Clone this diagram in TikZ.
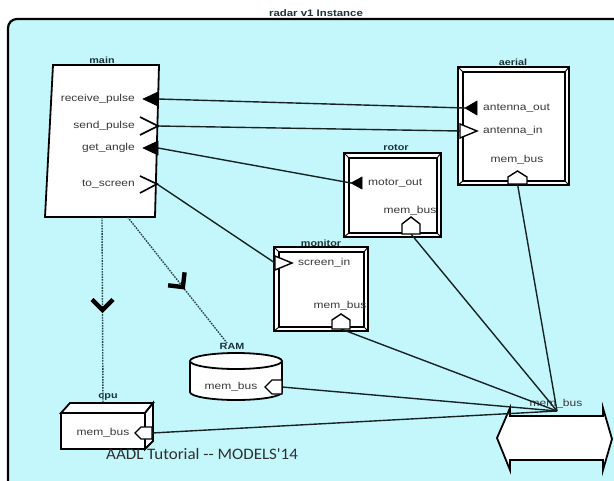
\documentclass[tikz,border=0pt]{standalone}
\usepackage{fontspec}
\usetikzlibrary{decorations.markings}
\newfontfamily\lab[FakeStretch=1.2]{Liberation Sans}
\newfontfamily\foot[FakeStretch=1.06,Ligatures=TeXOff]{Carlito}
\definecolor{bgcyan}{HTML}{C4F7FC}
\definecolor{txtgray}{HTML}{383838}
\definecolor{ttl}{HTML}{1A3238}
\definecolor{dotc}{HTML}{2A464C}
\definecolor{linec}{HTML}{182424}
\definecolor{footc}{HTML}{303030}
\newcommand\bevelbox[5]{%
  \node[box, minimum width={#4-#2}, minimum height={#5-#3}, inner sep=0pt, outer sep=0pt] (#1) at ({(#2+#4)/2},{(#3+#5)/2}) {};
  \draw[innerline] (#2+5,#3+5) rectangle (#4-4,#5-4);
  \draw[line width=1pt] (#2,#3) -- (#2+5,#3+5) (#4,#3) -- (#4-4,#3+5) (#2,#5) -- (#2+5,#5-4) (#4,#5) -- (#4-4,#5-4);
}
\begin{document}
\begin{tikzpicture}[x=1pt,y=-1pt,
  box/.style={draw=black, fill=white, line width=1.8pt, line join=miter},
  innerline/.style={draw=black, line width=1.3pt},
  port/.style={font=\lab\fontsize{10}{12}\selectfont, text=txtgray, inner sep=0pt},
  ttlab/.style={font=\lab\bfseries\fontsize{9}{11}\selectfont, text=ttl, inner sep=0pt, anchor=base},
  conn/.style={draw=linec, line width=1.4pt},
  fport/.style={fill=black, draw=black, line width=0.6pt, line join=miter},
  oport/.style={fill=white, draw=black, line width=1.4pt, line join=miter},
  chevport/.style={draw=black, line width=1.6pt},
  binding/.style={draw=dotc, line width=1.4pt, dash pattern=on 1.6pt off 1.1pt},
  chev/.style={draw=black, solid, line width=4.4pt, line join=miter, line cap=butt},
]
\useasboundingbox (0,0) rectangle (614,480);
\fill[white] (0,0) rectangle (614,480);
\fill[bgcyan, rounded corners=9pt] (8,19) rectangle (640,500);
\draw[line width=2.2pt, rounded corners=9pt] (8,500) -- (8,19) -- (640,19);
\node[font=\lab\bfseries\fontsize{9.5}{11}\selectfont, text=ttl, inner sep=0pt, anchor=base] (title) at (316,16) {radar v1 Instance};

% main
\draw[box] (53,65) -- (159,65) -- (155,217) -- (45,217) -- cycle;
\coordinate (main) at (102,141);
\node[ttlab] (tmain) at (102,63) {main};
\node[port, anchor=mid east] (lrp) at (135,99) {receive\_pulse};
\node[port, anchor=mid east] (lsp) at (135,126) {send\_pulse};
\node[port, anchor=mid east] (lga) at (135,148) {get\_angle};
\node[port, anchor=mid east] (lts) at (135,184) {to\_screen};

% aerial
\bevelbox{aerial}{458}{67}{569}{185}
\node[ttlab] (taerial) at (513,65) {aerial};
\node[port, anchor=mid west] (lao) at (483,108) {antenna\_out};
\node[port, anchor=mid west] (lai) at (483,131) {antenna\_in};
\node[port] (lamb) at (517,160) {mem\_bus};

% rotor
\bevelbox{rotor}{344}{153}{441}{237}
\node[ttlab] (trotor) at (396,150) {rotor};
\node[port, anchor=mid west] (lmo) at (368,183) {motor\_out};
\node[port] (lrmb) at (410,211) {mem\_bus};

% monitor
\bevelbox{monitor}{274}{247}{368}{331}
\node[ttlab] (tmonitor) at (321,246) {monitor};
\node[port, anchor=mid west] (lsi) at (298,263) {screen\_in};
\node[port] (lmmb) at (340,306) {mem\_bus};

% RAM
\draw[box] (190,361) -- (190,392) arc[start angle=180, end angle=360, x radius=46pt, y radius=8pt] -- (282,361) arc[start angle=0, end angle=180, x radius=46pt, y radius=8pt] -- cycle;
\draw[line width=1.8pt] (190,361) arc[start angle=180, end angle=360, x radius=46pt, y radius=8pt];
\coordinate (ram) at (236,376);
\node[ttlab] (tram) at (232,349) {RAM};
\node[port] (lrammb) at (231,387) {mem\_bus};

% cpu
\node[box, minimum width=84, minimum height=36, inner sep=0pt, outer sep=0pt] (cpu) at (103,431) {};
\draw[box] (61,413) -- (70,403) -- (153,403) -- (145,413) -- cycle;
\draw[box] (145,413) -- (153,403) -- (153,441) -- (145,449) -- cycle;
\node[ttlab] (tcpu) at (108,398) {cpu};
\node[port] (lcmb) at (103,433) {mem\_bus};

% bus
\draw[box] (497,438) -- (510,408) -- (510,416) -- (603,416) -- (603,408) -- (612,439) -- (603,470) -- (603,460) -- (510,460) -- (510,470) -- cycle;
\node[port] (tbus) at (556,404) {mem\_bus};

% port coordinates
\coordinate (rp) at (158,99);
\coordinate (sp) at (158,126);
\coordinate (ga) at (158,148);
\coordinate (ts) at (157,184);
\coordinate (ao) at (465,108);
\coordinate (ai) at (460,131);
\coordinate (amb) at (517.5,184);
\coordinate (mo) at (351,183);
\coordinate (rmb) at (411,234);
\coordinate (si) at (275,263);
\coordinate (mmb) at (341,329);
\coordinate (rammb) at (282,387);
\coordinate (cmb) at (152,433);
\coordinate (busc) at (557,411);
\coordinate (mainb1) at (102,217);
\coordinate (cpub) at (103,403);
\coordinate (mainb2) at (127.6,217);
\coordinate (ramb) at (227,343);

% connectors
\draw[conn] (rp) -- (ao);
\draw[conn] (sp) -- (ai);
\draw[conn] (ga) -- (mo);
\draw[conn] (ts) -- (si);
\draw[conn] (amb) -- (busc);
\draw[conn] (rmb) -- (busc);
\draw[conn] (mmb) -- (busc);
\draw[conn] (rammb) -- (busc);
\draw[conn] (cmb) -- (busc);
\draw[binding, postaction={decorate, decoration={markings, mark=at position 0.5 with {\draw[chev] (-10.5pt,10.5pt) -- (0pt,0pt) -- (-10.5pt,-10.5pt);}}}] (mainb1) -- (cpub);
\draw[binding, postaction={decorate, decoration={markings, mark=at position 0.556 with {\draw[chev] (-10.5pt,10.5pt) -- (0pt,0pt) -- (-10.5pt,-10.5pt);}}}] (mainb2) -- (ramb);

% ports
\draw[fport] (143,99) -- (158,92) -- (158,106) -- cycle;
\draw[chevport] (140,117) -- (158,126) -- (140,135);
\draw[fport] (143,148) -- (158,141) -- (158,155) -- cycle;
\draw[chevport] (140,176) -- (157,184) -- (140,193);
\draw[fport] (465,108) -- (477,101) -- (477,115) -- cycle;
\draw[oport] (460,124) -- (477,131) -- (460,138) -- cycle;
\draw[oport] (508,184) -- (508,177) -- (517.5,171) -- (527,177) -- (527,184) -- cycle;
\draw[fport] (351,183) -- (362,177) -- (362,189) -- cycle;
\draw[oport] (402,234) -- (402,224) -- (411,217) -- (420,224) -- (420,234) -- cycle;
\draw[oport] (275,256) -- (292,263) -- (275,270) -- cycle;
\draw[oport] (332,329) -- (332,320) -- (341,314) -- (350,320) -- (350,329) -- cycle;
\draw[oport] (282,380) -- (272,380) -- (265,387) -- (272,394) -- (282,394) -- cycle;
\draw[oport] (152,427) -- (141,427) -- (135,433) -- (141,439) -- (152,439) -- cycle;

% footer
\node[font=\foot\fontsize{16}{19}\selectfont, text=footc, anchor=base west, inner sep=0pt] (footer) at (106,459) {AADL Tutorial -- MODELS'14};
\end{tikzpicture}
\end{document}
